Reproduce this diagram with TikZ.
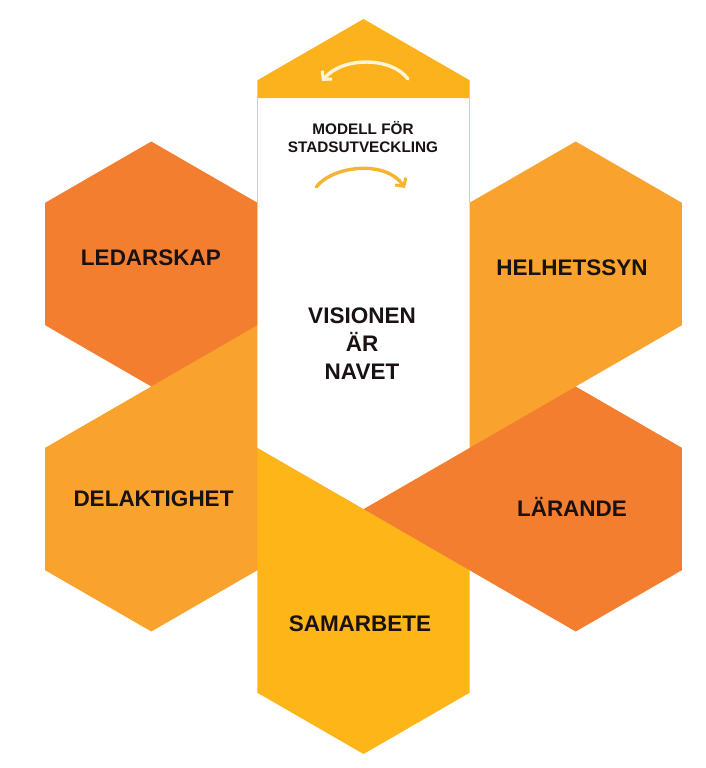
\documentclass[tikz,border=0pt]{standalone}
\usepackage{fontspec}
\setmainfont{Liberation Sans}
\usetikzlibrary{arrows.meta}
\definecolor{darkor}{HTML}{F47E30}
\definecolor{lightor}{HTML}{F9A22E}
\definecolor{yel}{HTML}{FDB518}
\definecolor{capyel}{HTML}{FBB21D}
\definecolor{edgeyel}{HTML}{F0C98E}
\definecolor{arrcream}{HTML}{FFF4D6}
\definecolor{arryel}{HTML}{F5B530}
\definecolor{txt}{HTML}{1A1212}
\tikzset{
  lbl/.style={font=\bfseries\fontsize{22.5}{27}\selectfont, text=txt, anchor=base, inner sep=0pt},
  curvarrow/.style={line width=3.4pt, line cap=round, -{Straight Barb[length=6pt,width=13pt,line width=3pt]}}
}
\begin{document}
\begin{tikzpicture}[x=1pt,y=-1pt]
\useasboundingbox (0,0) rectangle (705,768);
% LEDARSKAP petal (bottom layer)
\fill[darkor] (151.3,141.5) -- (45.2,202.75) -- (45.2,325.25) -- (363.5,509) -- (469.6,447.75) -- (469.6,325.25) -- cycle;
% DELAKTIGHET petal
\fill[lightor] (363.5,264) -- (469.6,325.25) -- (469.6,447.75) -- (151.3,631.5) -- (45.2,570.25) -- (45.2,447.75) -- cycle;
% SAMARBETE petal
\fill[yel] (363.5,264) -- (469.6,325.25) -- (469.6,692.75) -- (363.5,754) -- (257.4,692.75) -- (257.4,325.25) -- cycle;
% LARANDE petal
\fill[darkor] (363.5,264) -- (681.8,447.75) -- (681.8,570.25) -- (575.7,631.5) -- (257.4,447.75) -- (257.4,325.25) -- cycle;
% HELHETSSYN petal
\fill[lightor] (257.4,325.25) -- (575.7,141.5) -- (681.8,202.75) -- (681.8,325.25) -- (363.5,509) -- (257.4,447.75) -- cycle;
% top petal (white with yellow cap)
\fill[white] (363.5,19) -- (469.6,80.25) -- (469.6,447.75) -- (363.5,509) -- (257.4,447.75) -- (257.4,80.25) -- cycle;
\draw[edgeyel, line width=1pt] (257.9,98) -- (257.9,325);
\draw[edgeyel, line width=1pt] (469.1,98) -- (469.1,203);
\fill[capyel] (363.5,19) -- (469.6,80.25) -- (469.6,98) -- (257.4,98) -- (257.4,80.25) -- cycle;
% arrows
\coordinate (a1s) at (408,79);
\coordinate (a1e) at (322,81);
\draw[curvarrow, arrcream] (a1s) .. controls (392,57) and (343,56) .. (a1e);
\coordinate (a2s) at (316,187);
\coordinate (a2e) at (405,188);
\draw[curvarrow, arryel] (a2s) .. controls (334,165) and (386,160) .. (a2e);
% texts
\node[font=\bfseries\fontsize{15.3}{18}\selectfont, text=txt, align=center, inner sep=0pt] (model) at (363,137) {MODELL FÖR\\STADSUTVECKLING};
\node[font=\bfseries\fontsize{22.5}{28}\selectfont, text=txt, align=center, inner sep=0pt] (vision) at (362,343.5) {VISIONEN\\ÄR\\NAVET};
\node[lbl] (led) at (151,265.5) {LEDARSKAP};
\node[lbl] (hel) at (572,275) {HELHETSSYN};
\node[lbl] (lar) at (572,516.5) {LÄRANDE};
\node[lbl] (sam) at (360,631.5) {SAMARBETE};
\node[lbl] (del) at (153.5,506) {DELAKTIGHET};
\end{tikzpicture}
\end{document}
